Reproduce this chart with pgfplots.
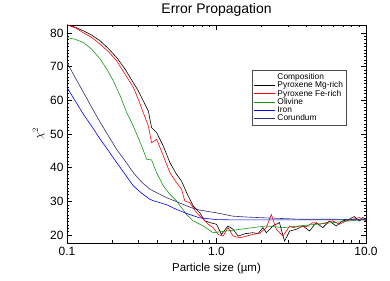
\documentclass[border=0pt]{standalone}
\usepackage{pgfplots}
\pgfplotsset{compat=1.18}
\usepackage{fontspec}
\setmainfont{Liberation Sans}
\definecolor{olgreen}{RGB}{20,150,20}
\definecolor{corund}{RGB}{45,45,120}
\begin{document}
\begin{tikzpicture}[x=1bp,y=1bp]
\path (-67,-38) rectangle (323,237);
\begin{axis}[
  at={(0,0)}, anchor=south west,
  scale only axis, width=299bp, height=218bp,
  xmode=log, xmin=0.1, xmax=10, ymin=17.7, ymax=82.4,
  xtick={0.1,1,10}, xticklabels={0.1,1.0,10.0},
  ytick={20,30,40,50,60,70,80},
  minor y tick num=9,
  tick align=inside,
  major tick length=5bp, minor tick length=2.5bp,
  every tick/.style={black, line width=0.4pt},
  axis line style={line width=0.6pt},
  /pgf/number format/assume math mode=true,
  tick label style={font=\fontsize{12}{14}\selectfont},
  xticklabel style={yshift=-1bp},
  title={Error Propagation},
  title style={font=\fontsize{14}{16}\selectfont, at={(axis description cs:0.5,1)}, anchor=south, yshift=-1bp},
  xlabel={Particle size (\textmu m)},
  xlabel style={font=\fontsize{11.5}{13}\selectfont, at={(axis description cs:0.5,0)}, anchor=north, yshift=-17bp},
  ylabel={$\chi^2$},
  ylabel style={font=\fontsize{12}{13}\selectfont, at={(axis description cs:-0.095,0.5)}, anchor=center},
  legend style={at={(0.936,0.794)}, anchor=north east, draw=black!70, line width=0.6pt,
    font=\fontsize{8.4}{8.4}\selectfont, row sep=-3.3bp, inner sep=1.5bp,
    cells={anchor=west}},
  legend image code/.code={\draw[#1, line width=0.6pt] (0bp,0bp) -- (21bp,0bp);},
  legend cell align=left,
  every axis plot/.append style={line width=0.6pt},
]
\addlegendimage{empty legend}
\addlegendentry{Composition}
\addplot[black] coordinates {
(0.1,82.4)(0.1136,81.7)(0.129,80.6)(0.1468,79.3)(0.167,77.6)(0.1896,75.3)(0.215,72.7)(0.245,69.2)(0.278,65.2)(0.3,62.8)(0.324,59.8)(0.350,56.8)(0.368,51.9)(0.398,50.4)(0.441,46.4)(0.488,41.5)(0.541,38.0)(0.584,36.0)(0.631,32.6)(0.699,28.6)(0.774,26.6)(0.836,24.2)(0.902,23.7)(1.0,23.2)(1.08,20.2)(1.194,22.7)(1.292,21.7)(1.398,19.7)(1.55,20.4)(1.752,20.7)(1.896,20.4)(2.045,22.2)(2.154,20.7)(2.385,22.7)(2.637,23.7)(2.853,18.2)(3.088,21.2)(3.42,21.7)(3.79,22.7)(4.19,21.2)(4.64,23.7)(5.14,22.2)(5.69,24.2)(6.31,22.7)(6.98,24.2)(7.74,24.7)(8.35,25.5)(9.04,24.2)(9.51,25.2)(10,24.7)};
\addlegendentry{Pyroxene Mg-rich}
\addplot[red] coordinates {
(0.1,82.4)(0.1136,81.5)(0.129,80.0)(0.1468,78.6)(0.167,76.6)(0.1896,74.4)(0.215,71.7)(0.245,67.7)(0.278,63.8)(0.3,60.3)(0.324,56.3)(0.350,52.4)(0.368,47.4)(0.398,48.4)(0.441,43.5)(0.488,38.5)(0.541,35.5)(0.584,33.6)(0.614,30.1)(0.664,29.6)(0.736,26.6)(0.815,24.7)(0.880,23.2)(0.950,22.2)(1.026,20.2)(1.107,19.7)(1.194,22.2)(1.292,19.7)(1.433,19.2)(1.589,19.7)(1.752,20.2)(1.943,20.5)(2.154,22.2)(2.327,26.1)(2.512,21.7)(2.783,19.7)(3.088,22.7)(3.25,22.2)(3.59,22.7)(3.98,22.5)(4.42,23.7)(4.89,23.2)(5.41,23.7)(5.99,24.2)(6.64,23.2)(7.36,24.2)(8.14,24.7)(9.04,25.2)(10,24.2)};
\addlegendentry{Pyroxene Fe-rich}
\addplot[olgreen] coordinates {
(0.1,78.6)(0.1136,78.1)(0.129,77.1)(0.1468,75.1)(0.167,72.2)(0.185,69.2)(0.2045,65.7)(0.227,61.3)(0.251,56.3)(0.271,53.4)(0.293,49.9)(0.316,46.4)(0.341,42.5)(0.368,42.3)(0.398,38.5)(0.441,34.6)(0.488,32.1)(0.541,30.1)(0.631,26.1)(0.699,24.2)(0.815,22.7)(0.950,20.7)(1.165,21.2)(1.433,21.7)(1.752,22.2)(2.154,22.7)(2.783,22.2)(3.59,22.7)(4.64,23.2)(5.99,23.7)(7.74,24.2)(10,24.7)};
\addlegendentry{Olivine}
\addplot[blue] coordinates {
(0.1,63.8)(0.1136,59.8)(0.129,55.8)(0.1468,52.2)(0.167,48.4)(0.1896,45.0)(0.215,41.5)(0.245,38.0)(0.278,34.6)(0.316,32.4)(0.359,30.6)(0.378,30.2)(0.419,29.6)(0.464,29.0)(0.541,27.6)(0.631,26.4)(0.774,25.1)(1.0,24.6)(1.292,24.5)(2.154,24.5)(10,24.5)};
\addlegendentry{Iron}
\addplot[corund] coordinates {
(0.1,71.2)(0.1136,66.7)(0.129,62.3)(0.1468,57.8)(0.167,53.4)(0.1896,49.4)(0.215,45.4)(0.245,42.0)(0.278,38.5)(0.316,35.7)(0.359,33.6)(0.409,32.3)(0.464,31.1)(0.527,30.1)(0.599,29.1)(0.681,28.1)(0.774,27.4)(1.0,26.6)(1.292,25.6)(1.668,25.3)(2.154,25.1)(3.59,24.7)(5.99,24.7)(10,24.5)};
\addlegendentry{Corundum}
\end{axis}
\end{tikzpicture}
\end{document}
